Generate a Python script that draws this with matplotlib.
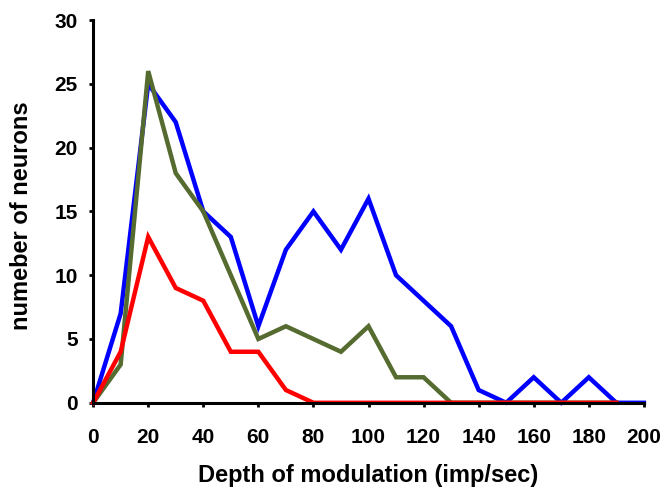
import matplotlib.pyplot as plt

depth = [0, 10, 20, 30, 40, 50, 60, 70, 80, 90, 100, 110, 120, 130, 140,
         150, 160, 170, 180, 190, 200]
blue_counts = [0, 7, 25, 22, 15, 13, 6, 12, 15, 12, 16, 10, 8, 6, 1,
               0, 2, 0, 2, 0, 0]
green_counts = [0, 3, 26, 18, 15, 10, 5, 6, 5, 4, 6, 2, 2, 0, 0,
                0, 0, 0, 0, 0]
red_counts = [0, 4, 13, 9, 8, 4, 4, 1, 0, 0, 0, 0, 0, 0, 0,
              0, 0, 0, 0, 0]

plt.rcParams["font.family"] = ["Liberation Sans", "DejaVu Sans"]
plt.rcParams["font.weight"] = "bold"

fig = plt.figure(figsize=(6.7, 4.9), dpi=100)
ax = fig.add_axes([0.139, 0.178, 0.822, 0.781])

ax.plot(depth, blue_counts, color="#0000ff", linewidth=3.2, clip_on=False,
        solid_joinstyle="miter")
ax.plot(depth[:len(green_counts)], green_counts, color="#556b2f", linewidth=3.2,
        clip_on=False, solid_joinstyle="miter")
ax.plot(depth[:len(red_counts)], red_counts, color="#ff0000", linewidth=3.2,
        clip_on=False, solid_joinstyle="miter")

ax.set_xlim(0, 200)
ax.set_ylim(0, 30)
ax.set_xticks(range(0, 201, 20))
ax.set_yticks(range(0, 31, 5))
for side in ("top", "right"):
    ax.spines[side].set_visible(False)
for side in ("left", "bottom"):
    ax.spines[side].set_linewidth(2.2)
ax.tick_params(direction="out", length=3, width=2, labelsize=15)
ax.tick_params(axis="x", pad=15)
ax.tick_params(axis="y", pad=8)
for lbl in ax.get_xticklabels() + ax.get_yticklabels():
    lbl.set_fontweight("bold")

ax.set_xlabel("Depth of modulation (imp/sec)", fontsize=17, fontweight="bold")
ax.set_ylabel("numeber of neurons", fontsize=17, fontweight="bold")
ax.xaxis.set_label_coords(0.5, -0.16)
ax.yaxis.set_label_coords(-0.11, 0.49)

fig.savefig("out.png", dpi=100)
